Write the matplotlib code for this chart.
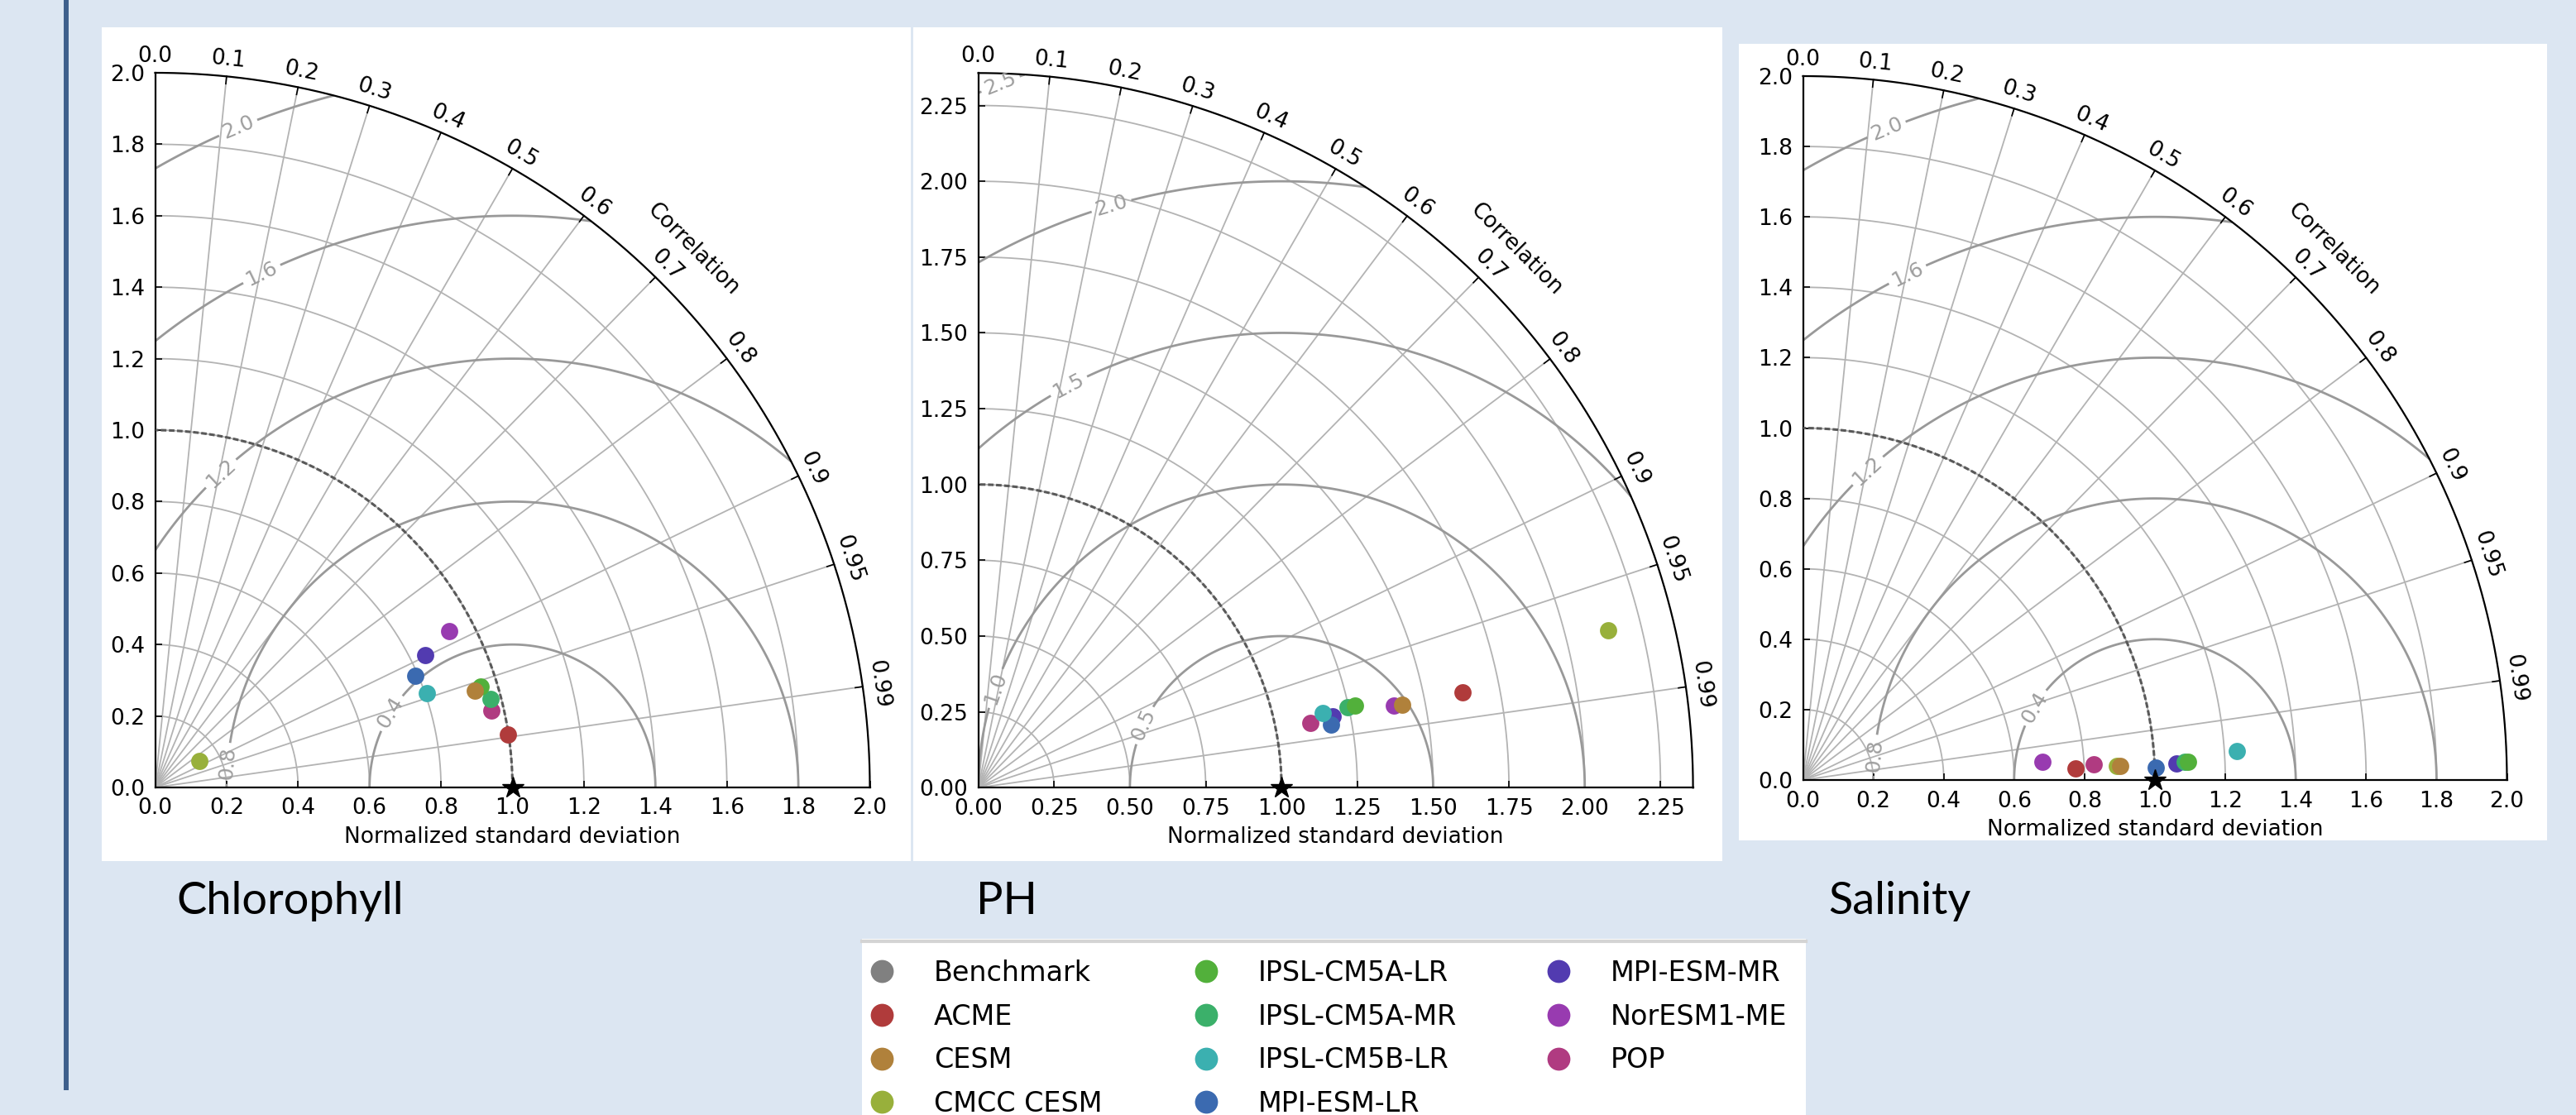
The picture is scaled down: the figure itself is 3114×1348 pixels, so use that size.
import numpy as np
import matplotlib
matplotlib.use("Agg")
import matplotlib.pyplot as plt
from matplotlib.lines import Line2D
from matplotlib.patches import Rectangle
from matplotlib.ticker import FormatStrFormatter

# ---- data -------------------------------------------------------------
models = ["ACME", "CESM", "CMCC CESM", "IPSL-CM5A-LR", "IPSL-CM5A-MR",
          "IPSL-CM5B-LR", "MPI-ESM-LR", "MPI-ESM-MR", "NorESM1-ME", "POP"]
model_colors = ["#b03b3b", "#b0813b", "#98b03b", "#52b03b", "#3bb06a",
                "#3bb0b0", "#3b6ab0", "#523bb0", "#983bb0", "#b03b81"]
benchmark_color = "#808080"
ref_std = 1.0

# normalized standard deviation / correlation of each model vs. benchmark
chl_std = [0.998, 0.934, 0.144, 0.955, 0.970, 0.804, 0.793, 0.842, 0.932, 0.966]
chl_corr = [0.989, 0.957, 0.857, 0.955, 0.967, 0.945, 0.919, 0.898, 0.883, 0.975]

ph_std = [1.627, 1.424, 2.142, 1.271, 1.247, 1.162, 1.182, 1.192, 1.396, 1.115]
ph_corr = [0.9810, 0.9813, 0.9701, 0.9772, 0.9771, 0.9775, 0.9843, 0.9805, 0.9811, 0.9814]

sal_std = [0.774, 0.902, 0.893, 1.095, 1.086, 1.235, 1.003, 1.061, 0.683, 0.828]
sal_corr = [0.9991, 0.9990, 0.9990, 0.9989, 0.9989, 0.9978, 0.9994, 0.9990, 0.9972, 0.9986]

corr_ticks = [0.0, 0.1, 0.2, 0.3, 0.4, 0.5, 0.6, 0.7, 0.8, 0.9, 0.95, 0.99]
std_ticks_a = [0.0, 0.2, 0.4, 0.6, 0.8, 1.0, 1.2, 1.4, 1.6, 1.8, 2.0]
std_ticks_b = [0.0, 0.25, 0.5, 0.75, 1.0, 1.25, 1.5, 1.75, 2.0, 2.25]
rms_levels_a = [0.4, 0.8, 1.2, 1.6, 2.0]
rms_levels_b = [0.5, 1.0, 1.5, 2.0, 2.5]

W, H = 3114, 1348
fig = plt.figure(figsize=(W / 100, H / 100), dpi=100, facecolor="#dce6f2")


def fig_rect(x0, y0, x1, y1, **kw):
    r = Rectangle((x0 / W, 1 - y1 / H), (x1 - x0) / W, (y1 - y0) / H,
                  transform=fig.transFigure, zorder=-1, **kw)
    fig.add_artist(r)


def taylor(origin, radius_px, rmax, stds, corrs, std_ticks, fmt,
           rms_levels, rms_label_xy):
    ox, oy = origin
    ax = fig.add_axes([ox / W, (H - oy) / H, radius_px / W, radius_px / H])
    ppu = radius_px / rmax
    ax.set_xlim(0, rmax)
    ax.set_ylim(0, rmax)
    ax.patch.set_visible(False)
    ax.spines["top"].set_visible(False)
    ax.spines["right"].set_visible(False)
    for s in ("left", "bottom"):
        ax.spines[s].set_linewidth(1.6)
    ax.set_xticks(std_ticks)
    ax.set_yticks(std_ticks)
    ax.xaxis.set_major_formatter(FormatStrFormatter(fmt))
    ax.yaxis.set_major_formatter(FormatStrFormatter(fmt))
    ax.tick_params(direction="in", length=6, width=1.2, pad=9, labelsize=19,
                   top=False, right=False)

    t = np.linspace(0, np.pi / 2, 300)
    for s in std_ticks:
        if 0 < s < rmax - 1e-6:
            ax.plot(s * np.cos(t), s * np.sin(t), color="0.7", lw=1.3, zorder=1)
    for c in corr_ticks[1:]:
        th = np.arccos(c)
        ax.plot([0, rmax * np.cos(th)], [0, rmax * np.sin(th)],
                color="0.7", lw=1.3, zorder=1)
    ax.plot(rmax * np.cos(t), rmax * np.sin(t), color="k", lw=1.6,
            clip_on=False, zorder=4)

    tick = 9 / ppu
    lab_r = rmax + 20 / ppu
    for c in corr_ticks:
        th = np.arccos(c)
        if c > 0:
            ax.plot([(rmax - tick) * np.cos(th), rmax * np.cos(th)],
                    [(rmax - tick) * np.sin(th), rmax * np.sin(th)],
                    color="k", lw=1.2, clip_on=False, zorder=4)
        ax.text(lab_r * np.cos(th), lab_r * np.sin(th), str(c),
                rotation=np.degrees(th) - 90, rotation_mode="anchor",
                ha="center", va="center", fontsize=19)
    cr = rmax + 56 / ppu
    ax.text(cr * np.cos(np.pi / 4), cr * np.sin(np.pi / 4), "Correlation",
            rotation=-45, rotation_mode="anchor", ha="center", va="center",
            fontsize=19)
    ax.annotate("Normalized standard deviation", xy=(0.5, 0),
                xycoords="axes fraction", xytext=(0, -43),
                textcoords="offset points", ha="center", va="center",
                fontsize=19)

    # centred RMS difference contours
    rs, ts = np.meshgrid(np.linspace(0, rmax, 400), np.linspace(0, np.pi / 2, 400))
    xs, ys = rs * np.cos(ts), rs * np.sin(ts)
    rms = np.sqrt((xs - ref_std) ** 2 + ys ** 2)
    cs = ax.contour(xs, ys, rms, levels=rms_levels, colors="0.6",
                    linewidths=2.0, zorder=2)
    ax.clabel(cs, inline=True, fontsize=18, fmt="%.1f",
              manual=rms_label_xy, colors="0.62")

    ax.plot(ref_std * np.cos(t), ref_std * np.sin(t), color="0.35",
            ls=(0, (2.2, 1.0)), lw=2.2, zorder=3)
    ax.plot([ref_std], [0], ls="", marker="*", color="k", ms=19,
            clip_on=False, zorder=7)

    for i in reversed(range(len(models))):
        x = stds[i] * corrs[i]
        y = stds[i] * np.sqrt(1 - corrs[i] ** 2)
        ax.plot([x], [y], ls="", marker="o", ms=15, color=model_colors[i],
                mec="none", clip_on=False, zorder=6)
    return ax


# background panels
fig.add_artist(Line2D([79.7 / W] * 2, [1, 1 - 1318 / H], transform=fig.transFigure,
                      color="#3e5f8c", lw=4.3, solid_capstyle="butt"))
fig_rect(123, 33, 1101, 1041, facecolor="white", edgecolor="none")
fig_rect(1104, 33, 2082, 1041, facecolor="white", edgecolor="none")
fig_rect(2102, 53, 3079, 1016, facecolor="white", edgecolor="none")

taylor((187.5, 952), 864, 2.0, chl_std, chl_corr, std_ticks_a, "%.1f",
       rms_levels_a, [(0.648, 0.216), (0.196, 0.068), (0.181, 0.882),
                      (0.295, 1.444), (0.23, 1.852)])
taylor((1182.6, 952.3), 864, 2.357, ph_std, ph_corr, std_ticks_b, "%.2f",
       rms_levels_b, [(0.538, 0.210), (0.050, 0.330), (0.298, 1.326),
                      (0.440, 1.916), (0.073, 2.322)])
taylor((2179.5, 943), 851, 2.0, sal_std, sal_corr, std_ticks_a, "%.1f",
       rms_levels_a, [(0.657, 0.207), (0.196, 0.071), (0.181, 0.882),
                      (0.296, 1.438), (0.235, 1.854)])

for name, x in [("Chlorophyll", 213), ("PH", 1180), ("Salinity", 2210)]:
    fig.text(x / W, 1 - 1105 / H, name, family="Lato", fontsize=39,
             ha="left", va="baseline")

# legend
fig_rect(1042, 1135, 2183, 1348, facecolor="white", edgecolor="none")
fig.add_artist(Line2D([1042 / W, 2183 / W], [1 - 1138 / H] * 2,
                      transform=fig.transFigure, color="#d4d4d4", lw=3))
labels = ["Benchmark"] + models
colors = [benchmark_color] + model_colors
for k, x in enumerate([1051, 1443, 1869]):
    lab = labels[4 * k:4 * k + 4]
    col = colors[4 * k:4 * k + 4]
    handles = [Line2D([], [], ls="", marker="o", ms=20, color=c, mec="none")
               for c in col]
    fig.legend(handles, lab, loc="upper left", bbox_to_anchor=(x / W, 1 - 1160 / H),
               frameon=False, fontsize=24, handlelength=0.9, handletextpad=1.44,
               labelspacing=0.59, borderpad=0, borderaxespad=0)

fig.savefig("out.png", dpi=100)
